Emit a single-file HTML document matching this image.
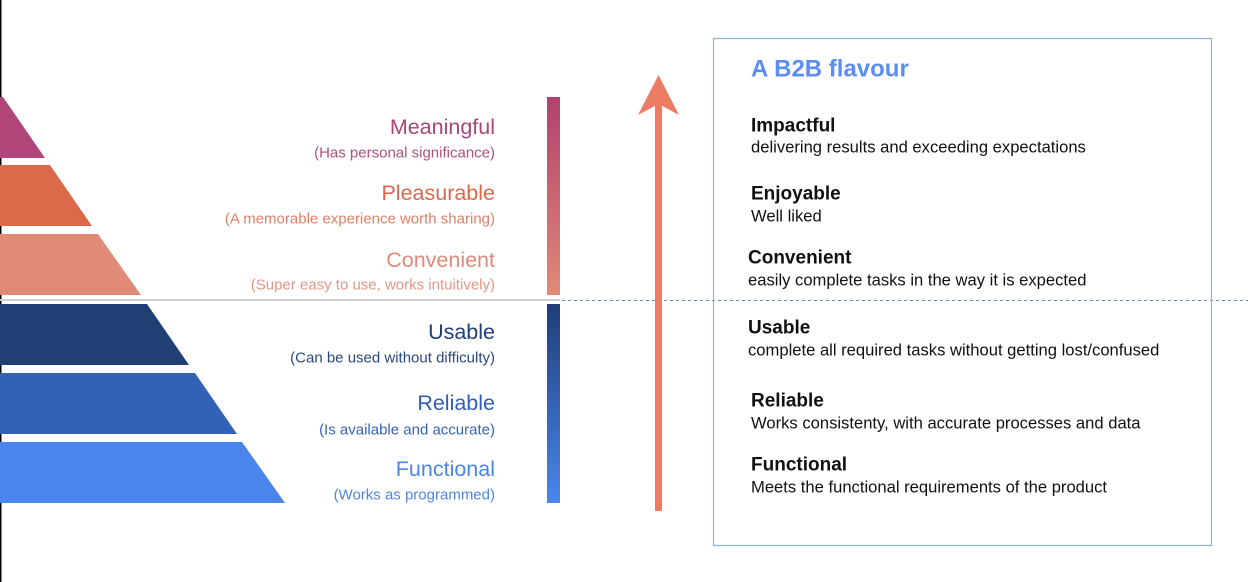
<!DOCTYPE html>
<html><head><meta charset="utf-8"><style>
html,body{margin:0;padding:0;background:#fff;}
svg{display:block;font-family:"Liberation Sans",sans-serif;}
</style></head><body>
<svg width="1248" height="582" viewBox="0 0 1248 582" xmlns="http://www.w3.org/2000/svg">
<defs>
<linearGradient id="gt" x1="0" y1="0" x2="0" y2="1"><stop offset="0" stop-color="#b0416f"/><stop offset="1" stop-color="#e08a76"/></linearGradient>
<linearGradient id="gb" x1="0" y1="0" x2="0" y2="1"><stop offset="0" stop-color="#1f3d78"/><stop offset="1" stop-color="#4a86ec"/></linearGradient>
</defs>
<rect x="0" y="0" width="1.5" height="582" fill="#000"/>
<polygon points="0,97 3,97 45,158 0,158" fill="#b0457a"/>
<polygon points="0,165 50,165 92,226 0,226" fill="#dc6a4a"/>
<polygon points="0,234 98,234 141,295 0,295" fill="#e08b78"/>
<rect x="0" y="299" width="560" height="2" fill="#cfcfcf"/>
<polygon points="0,304 147,304 189,365 0,365" fill="#1f3f75"/>
<polygon points="0,373 195,373 237,434 0,434" fill="#3162b6"/>
<polygon points="0,442 242,442 285,503 0,503" fill="#4a84ec"/>
<rect x="547" y="97" width="13" height="198" fill="url(#gt)"/>
<rect x="547" y="304" width="13" height="199" fill="url(#gb)"/>
<line x1="562" y1="300.5" x2="1248" y2="300.5" stroke="#6f8fc4" stroke-width="1" stroke-dasharray="3,3"/>
<rect x="655" y="100" width="7" height="411" fill="#ec7c64"/>
<polygon points="658.5,75 679,115 658.5,104 638,115" fill="#ec7c64"/>
<rect x="713.5" y="38.5" width="498" height="507" fill="none" stroke="#8eb0ea" stroke-width="1.2"/>
<g text-anchor="end" dominant-baseline="central">
<text x="495" y="127" font-size="21.5" fill="#a8457a">Meaningful</text>
<text x="495" y="153" font-size="15" fill="#b0507f">(Has personal significance)</text>
<text x="495" y="193" font-size="21.5" fill="#d9694a">Pleasurable</text>
<text x="495" y="219" font-size="15" fill="#e07f66">(A memorable experience worth sharing)</text>
<text x="495" y="260" font-size="21.5" fill="#e0897a">Convenient</text>
<text x="495" y="285" font-size="15" fill="#e59585">(Super easy to use, works intuitively)</text>
<text x="495" y="332" font-size="21.5" fill="#1f3f7a">Usable</text>
<text x="495" y="358" font-size="15" fill="#2a4780">(Can be used without difficulty)</text>
<text x="495" y="403" font-size="21.5" fill="#2f5eb5">Reliable</text>
<text x="495" y="430" font-size="15" fill="#3563b8">(Is available and accurate)</text>
<text x="495" y="469" font-size="21.5" fill="#4a84e8">Functional</text>
<text x="495" y="495" font-size="15" fill="#4f86e6">(Works as programmed)</text>
</g>
<g dominant-baseline="central" fill="#111">
<text x="751" y="69" font-size="24" font-weight="bold" fill="#5b8ef0">A B2B flavour</text>
<text x="751" y="126" font-size="19" font-weight="bold">Impactful</text>
<text x="751" y="147" font-size="16.6">delivering results and exceeding expectations</text>
<text x="751" y="194" font-size="19" font-weight="bold">Enjoyable</text>
<text x="751" y="216" font-size="16.6">Well liked</text>
<text x="748" y="258" font-size="19" font-weight="bold">Convenient</text>
<text x="748" y="280" font-size="16.6">easily complete tasks in the way it is expected</text>
<text x="748" y="328" font-size="19" font-weight="bold">Usable</text>
<text x="748" y="350" font-size="16.6">complete all required tasks without getting lost/confused</text>
<text x="751" y="401" font-size="19" font-weight="bold">Reliable</text>
<text x="751" y="423" font-size="16.6">Works consistenty, with accurate processes and data</text>
<text x="751" y="465" font-size="19" font-weight="bold">Functional</text>
<text x="751" y="487" font-size="16.6">Meets the functional requirements of the product</text>
</g>
</svg>
</body></html>
